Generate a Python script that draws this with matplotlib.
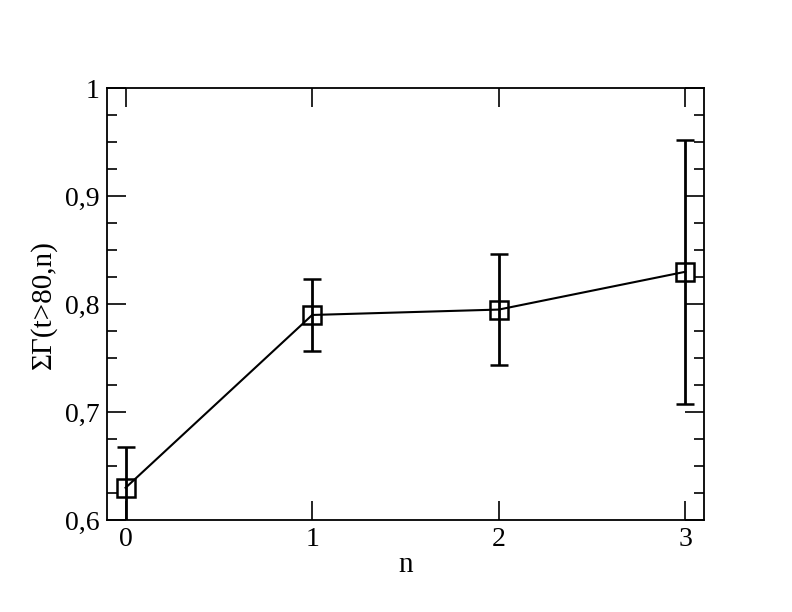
import numpy as np
import matplotlib.pyplot as plt
from matplotlib.ticker import MultipleLocator, FuncFormatter

# data
n = [0, 1, 2, 3]
gamma_sum = [0.630, 0.790, 0.795, 0.830]
gamma_err = [0.038, 0.033, 0.051, 0.122]

plt.rcParams['font.family'] = ['Liberation Serif', 'DejaVu Serif']

fig = plt.figure(figsize=(7.92, 6.12), dpi=100)
ax = fig.add_axes([0.135, 0.150, 0.754, 0.706])

ax.errorbar(n, gamma_sum, yerr=gamma_err, color='black', lw=1.5,
            elinewidth=2, capsize=6.5, capthick=2,
            marker='s', ms=13.5, mfc='none', mec='black', mew=1.8)

ax.set_xlim(-0.1, 3.1)
ax.set_ylim(0.6, 1.0)
ax.xaxis.set_major_locator(MultipleLocator(1))
ax.yaxis.set_major_locator(MultipleLocator(0.1))
ax.yaxis.set_minor_locator(MultipleLocator(0.025))

def comma(v, pos):
    s = ('%.1f' % v).replace('.', ',')
    return '1' if s == '1,0' else s

ax.yaxis.set_major_formatter(FuncFormatter(comma))
ax.tick_params(which='both', direction='in', top=True, right=True, labelsize=20, width=1.2)
ax.tick_params(which='major', length=14, pad=5)
ax.tick_params(which='minor', length=7)
for s in ax.spines.values():
    s.set_linewidth(1.3)

ax.set_xlabel('n', fontsize=21, labelpad=0)
ax.set_ylabel('ΣΓ(t>80,n)', fontsize=21, labelpad=6)

fig.savefig('out.png', dpi=100)
